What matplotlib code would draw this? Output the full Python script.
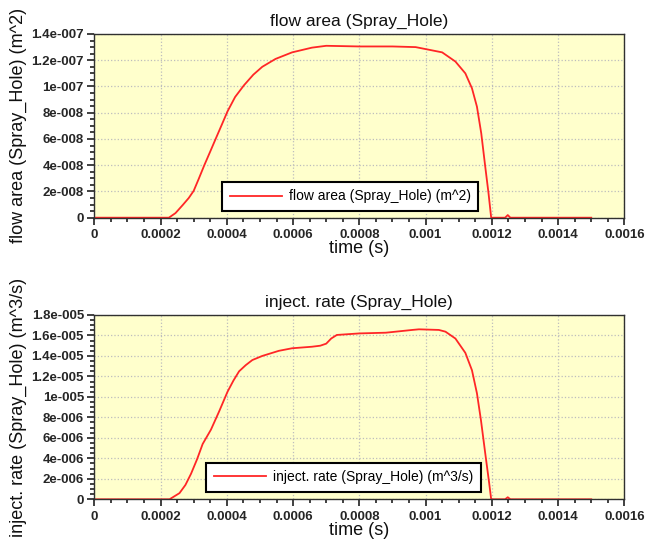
import matplotlib
matplotlib.use("Agg")
import matplotlib.pyplot as plt
from matplotlib.ticker import FixedLocator, FixedFormatter, MultipleLocator

# ---------------- data ----------------
t_area = [0.0, 0.000225, 0.000245, 0.000267, 0.000285, 0.0003, 0.000315, 0.000332, 0.00035,
          0.000367, 0.000385, 0.000402, 0.000425, 0.000452, 0.00048, 0.000507, 0.000547,
          0.000597, 0.000657, 0.0007, 0.0008, 0.0009, 0.00097, 0.00101, 0.00105, 0.00109,
          0.00112, 0.00114, 0.001155, 0.001168, 0.00118, 0.00119, 0.001198, 0.00124,
          0.001248, 0.001256, 0.00127, 0.0015]
area = [0.0, 0.0, 0.35e-8, 0.97e-8, 1.5e-8, 2.05e-8, 2.95e-8, 4.0e-8, 5.05e-8,
        6.05e-8, 7.1e-8, 8.1e-8, 9.2e-8, 1.01e-7, 1.09e-7, 1.15e-7, 1.21e-7,
        1.26e-7, 1.296e-7, 1.31e-7, 1.305e-7, 1.305e-7, 1.30e-7, 1.28e-7, 1.26e-7, 1.19e-7,
        1.10e-7, 9.86e-8, 8.46e-8, 6.43e-8, 3.9e-8, 1.85e-8, 0.0, 0.0,
        0.2e-8, 0.0, 0.0, 0.0]

t_rate = [0.0, 0.000227, 0.000257, 0.000275, 0.000292, 0.00031, 0.000327, 0.000352, 0.000377,
          0.000402, 0.00042, 0.000437, 0.000457, 0.000477, 0.000507, 0.000557, 0.000597,
          0.000657, 0.000682, 0.0007, 0.000715, 0.000732, 0.0008, 0.00088, 0.00096, 0.00098,
          0.00104, 0.00106, 0.00109, 0.00112, 0.00114, 0.001155, 0.001167, 0.00118,
          0.001192, 0.001198, 0.00124, 0.001248, 0.001256, 0.00127, 0.0015]
rate = [0.0, 0.0, 0.6e-6, 1.4e-6, 2.5e-6, 3.9e-6, 5.4e-6, 6.8e-6, 8.6e-6,
        1.05e-5, 1.16e-5, 1.25e-5, 1.31e-5, 1.36e-5, 1.40e-5, 1.45e-5, 1.475e-5,
        1.49e-5, 1.50e-5, 1.52e-5, 1.57e-5, 1.605e-5, 1.62e-5, 1.627e-5, 1.654e-5, 1.66e-5,
        1.654e-5, 1.637e-5, 1.57e-5, 1.43e-5, 1.26e-5, 1.035e-5, 7.75e-6, 4.5e-6,
        1.56e-6, 0.0, 0.0, 0.2e-6, 0.0, 0.0, 0.0]

x_ticks = [0, 0.0002, 0.0004, 0.0006, 0.0008, 0.001, 0.0012, 0.0014, 0.0016]
x_labels = ["0", "0.0002", "0.0004", "0.0006", "0.0008", "0.001", "0.0012", "0.0014", "0.0016"]

area_ticks = [0, 2e-8, 4e-8, 6e-8, 8e-8, 1e-7, 1.2e-7, 1.4e-7]
area_labels = ["0", "2e-008", "4e-008", "6e-008", "8e-008", "1e-007", "1.2e-007", "1.4e-007"]

rate_ticks = [0, 2e-6, 4e-6, 6e-6, 8e-6, 1e-5, 1.2e-5, 1.4e-5, 1.6e-5, 1.8e-5]
rate_labels = ["0", "2e-006", "4e-006", "6e-006", "8e-006", "1e-005", "1.2e-005",
               "1.4e-005", "1.6e-005", "1.8e-005"]

titles = ["flow area (Spray_Hole)", "inject. rate (Spray_Hole)"]
ylabels = ["flow area (Spray_Hole) (m^2)", "inject. rate (Spray_Hole) (m^3/s)"]
legend_labels = ["flow area (Spray_Hole) (m^2)", "inject. rate (Spray_Hole) (m^3/s)"]
xlabel = "time (s)"

# ---------------- figure ----------------
plt.rcParams['font.family'] = ['Liberation Sans', 'DejaVu Sans']
fig = plt.figure(figsize=(6.47, 5.5), dpi=100)
fig.patch.set_facecolor('white')

ax1 = fig.add_axes([0.1458, 0.6042, 0.8192, 0.334])
ax2 = fig.add_axes([0.1458, 0.0922, 0.8192, 0.3351])

specs = [
    (ax1, t_area, area, area_ticks, area_labels, 1.4e-7, 5e-9, 0),
    (ax2, t_rate, rate, rate_ticks, rate_labels, 1.8e-5, 0.5e-6, 1),
]
legend_pos = [(0.241, 0.036), (0.211, 0.04)]

for ax, t, v, yt, yl, ymax, yminor, i in specs:
    ax.set_facecolor('#FFFFCC')
    ax.plot(t, v, color='#FF2626', lw=1.3, label=legend_labels[i])
    ax.set_xlim(0, 0.0016)
    ax.set_ylim(0, ymax)
    ax.xaxis.set_major_locator(FixedLocator(x_ticks))
    ax.xaxis.set_major_formatter(FixedFormatter(x_labels))
    ax.xaxis.set_minor_locator(MultipleLocator(0.00005))
    ax.yaxis.set_major_locator(FixedLocator(yt))
    ax.yaxis.set_major_formatter(FixedFormatter(yl))
    ax.yaxis.set_minor_locator(MultipleLocator(yminor))
    ax.grid(True, which='major', color='#BDBDBD', linestyle=':', linewidth=0.9)
    ax.set_axisbelow(True)
    ax.tick_params(which='major', direction='out', length=5, width=1.2, color='#202020')
    ax.tick_params(which='minor', direction='out', length=2.8, width=1.2, color='#202020')
    ax.tick_params(axis='x', which='major', pad=3.5)
    ax.tick_params(axis='y', which='major', pad=2.5)
    ax.tick_params(top=False, right=False, which='both')
    for lab in ax.get_xticklabels() + ax.get_yticklabels():
        lab.set_fontfamily('Liberation Sans')
        lab.set_fontweight('bold')
        lab.set_fontsize(9.5)
        lab.set_color('#262626')
    for sp in ax.spines.values():
        sp.set_color('#303030')
        sp.set_linewidth(1.0)
    ax.set_title(titles[i], fontsize=12.5, pad=6, color='#101010')
    ax.set_xlabel(xlabel, fontsize=13, labelpad=-1, color='#101010')
    ax.set_ylabel(ylabels[i], fontsize=13, labelpad=3, color='#101010')
    leg = ax.legend(loc='lower left', bbox_to_anchor=legend_pos[i], borderaxespad=0,
                    fontsize=10, handlelength=3.75, fancybox=False, framealpha=1,
                    edgecolor='black', borderpad=0.55, handletextpad=0.5)
    leg.get_frame().set_linewidth(1.5)

fig.savefig('out.png', dpi=100, facecolor='white')
